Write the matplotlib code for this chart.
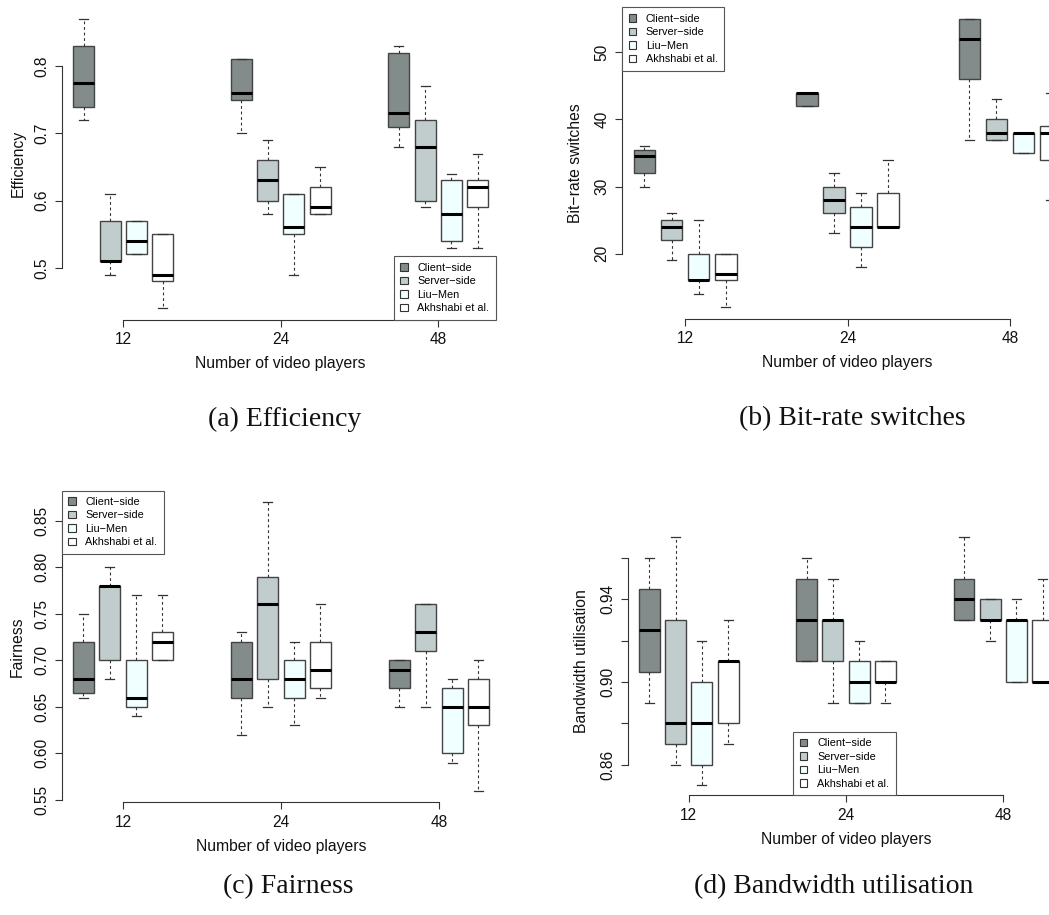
import matplotlib
matplotlib.use("Agg")
import matplotlib.pyplot as plt
from matplotlib.patches import Patch

plt.rcParams["font.family"] = ["Liberation Sans", "DejaVu Sans"]

# ----------------- data: (whisker low, q1, median, q3, whisker high) per group -----------------
groups = ["12", "24", "48"]
series = ["Client\u2212side", "Server\u2212side", "Liu\u2212Men", "Akhshabi et al."]
colors = ["#838B8B", "#C1CDCD", "#F0FFFF", "#FFFFFF"]

eff_client = [(0.72, 0.74, 0.775, 0.83, 0.87), (0.70, 0.75, 0.76, 0.81, 0.81), (0.68, 0.71, 0.73, 0.82, 0.83)]
eff_server = [(0.49, 0.51, 0.51, 0.57, 0.61), (0.58, 0.60, 0.63, 0.66, 0.69), (0.59, 0.60, 0.68, 0.72, 0.77)]
eff_liu = [(0.52, 0.52, 0.54, 0.57, 0.57), (0.49, 0.55, 0.56, 0.61, 0.61), (0.53, 0.54, 0.58, 0.63, 0.64)]
eff_akh = [(0.44, 0.48, 0.49, 0.55, 0.55), (0.58, 0.58, 0.59, 0.62, 0.65), (0.53, 0.59, 0.62, 0.63, 0.67)]

brs_client = [(30, 32, 34.5, 35.5, 36), (42, 42, 44, 44, 44), (37, 46, 52, 55, 55)]
brs_server = [(19, 22, 24, 25, 26), (23, 26, 28, 30, 32), (37, 37, 38, 40, 43)]
brs_liu = [(14, 16, 16, 20, 25), (18, 21, 24, 27, 29), (35, 35, 38, 38, 38)]
brs_akh = [(12, 16, 17, 20, 20), (24, 24, 24, 29, 34), (28, 34, 38, 39, 44)]

fair_client = [(0.66, 0.665, 0.68, 0.72, 0.75), (0.62, 0.66, 0.68, 0.72, 0.73), (0.65, 0.67, 0.69, 0.70, 0.70)]
fair_server = [(0.68, 0.70, 0.78, 0.78, 0.80), (0.65, 0.68, 0.76, 0.79, 0.87), (0.65, 0.71, 0.73, 0.76, 0.76)]
fair_liu = [(0.64, 0.65, 0.66, 0.70, 0.77), (0.63, 0.66, 0.68, 0.70, 0.72), (0.59, 0.60, 0.65, 0.67, 0.68)]
fair_akh = [(0.70, 0.70, 0.72, 0.73, 0.77), (0.66, 0.67, 0.69, 0.72, 0.76), (0.56, 0.63, 0.65, 0.68, 0.70)]

bw_client = [(0.89, 0.905, 0.925, 0.945, 0.96), (0.91, 0.91, 0.93, 0.95, 0.96), (0.93, 0.93, 0.94, 0.95, 0.97)]
bw_server = [(0.86, 0.87, 0.88, 0.93, 0.97), (0.89, 0.91, 0.93, 0.93, 0.95), (0.92, 0.93, 0.93, 0.94, 0.94)]
bw_liu = [(0.85, 0.86, 0.88, 0.90, 0.92), (0.89, 0.89, 0.90, 0.91, 0.92), (0.90, 0.90, 0.93, 0.93, 0.94)]
bw_akh = [(0.87, 0.88, 0.91, 0.91, 0.93), (0.89, 0.90, 0.90, 0.91, 0.91), (0.90, 0.90, 0.90, 0.93, 0.95)]

W, H = 1049, 915
fig = plt.figure(figsize=(W / 100, H / 100), dpi=100)

INK = "#333333"
XLIM = (0.17, 16.7)
TICKPOS = [2.5, 8.5, 14.5]


def add_panel(box, data, ylim, yticks, yticklabels, ylabel, ylabel_x, legend_loc):
    # box is (left, right, top, bottom) in pixels
    left, right, top, bottom = box
    ax = fig.add_axes([left / W, 1 - bottom / H, (right - left) / W, (bottom - top) / H])
    for k, (rows, col) in enumerate(zip(data, colors)):
        stats = [dict(whislo=r[0], q1=r[1], med=r[2], q3=r[3], whishi=r[4]) for r in rows]
        pos = [1 + k + 6 * g for g in range(len(rows))]
        ax.bxp(stats, positions=pos, widths=0.8, patch_artist=True, showfliers=False,
               capwidths=0.35, manage_ticks=False,
               boxprops=dict(facecolor=col, edgecolor="#444444", linewidth=1.0),
               medianprops=dict(color="black", linewidth=2.2, solid_capstyle="butt"),
               whiskerprops=dict(color=INK, linewidth=0.8, linestyle=(0, (2.5, 2.5))),
               capprops=dict(color=INK, linewidth=0.9))
    ax.set_xlim(*XLIM)
    ax.set_ylim(*ylim)
    ax.set_xticks(TICKPOS)
    ax.set_xticklabels(groups)
    ax.set_yticks(yticks)
    ax.set_yticklabels(yticklabels)
    for s in ["top", "right"]:
        ax.spines[s].set_visible(False)
    ax.spines["left"].set_bounds(yticks[0], yticks[-1])
    ax.spines["bottom"].set_bounds(TICKPOS[0], TICKPOS[-1])
    for s in ["left", "bottom"]:
        ax.spines[s].set_color(INK)
        ax.spines[s].set_linewidth(0.8)
    ax.tick_params(axis="both", length=5, width=0.8, color=INK, labelsize=11.2,
                   labelcolor="#111111", pad=4)
    for t in ax.get_yticklabels():
        t.set_rotation(90)
        t.set_va("center")

    # axis titles: x title centred under the 24 tick, y title centred on the axes
    mid = (TICKPOS[1] - XLIM[0]) / (XLIM[1] - XLIM[0])
    ax.set_xlabel("Number of video players", fontsize=11.3, color="#111111")
    ax.xaxis.label.set_va("center")
    ax.xaxis.set_label_coords(mid, -44 / (bottom - top))
    ax.set_ylabel(ylabel, fontsize=11.3, color="#111111")
    ax.yaxis.label.set_va("center")
    ax.yaxis.set_label_coords((ylabel_x - left) / (right - left), 0.5)
    ax.patch.set_alpha(0)

    handles = [Patch(facecolor=c, edgecolor=INK, linewidth=0.8) for c in colors]
    leg = ax.legend(handles, series, loc=legend_loc, borderaxespad=0, fontsize=7.8,
                    fancybox=False, framealpha=1, edgecolor="#555555",
                    handlelength=0.7, handleheight=0.7, handletextpad=0.9,
                    labelspacing=0.32, borderpad=0.6)
    leg.get_frame().set_linewidth(0.8)
    return ax


add_panel((62, 496, 7.6, 319.7), [eff_client, eff_server, eff_liu, eff_akh],
          (0.4228, 0.8872), [0.5, 0.6, 0.7, 0.8], ["0.5", "0.6", "0.7", "0.8"],
          "Efficiency", 18, "lower right")

add_panel((622, 1069.6, 7.3, 318.8), [brs_client, brs_server, brs_liu, brs_akh],
          (10.28, 56.72), [20, 30, 40, 50], ["20", "30", "40", "50"],
          "Bit\u2212rate switches", 576, "upper left")

add_panel((61.6, 496.9, 490.5, 802.2), [fair_client, fair_server, fair_liu, fair_akh],
          (0.5476, 0.8824), [0.55, 0.60, 0.65, 0.70, 0.75, 0.80, 0.85],
          ["0.55", "0.60", "0.65", "0.70", "0.75", "0.80", "0.85"],
          "Fairness", 17.3, "upper left")

add_panel((627.7, 1061, 527.4, 795.3), [bw_client, bw_server, bw_liu, bw_akh],
          (0.8452, 0.9748), [0.86, 0.88, 0.90, 0.92, 0.94, 0.96],
          ["0.86", "", "0.90", "", "0.94", ""],
          "Bandwidth utilisation", 581.7, "lower center")

# sub-figure captions
captions = ["(a) Efficiency", "(b) Bit-rate switches", "(c) Fairness", "(d) Bandwidth utilisation"]
cap_xy = [(285, 419), (852, 419), (288, 887), (834, 887)]
for txt, (cx, cy) in zip(captions, cap_xy):
    fig.text(cx / W, 1 - cy / H, txt, ha="center", va="center", fontsize=20,
             family=["Liberation Serif", "DejaVu Serif"], color="#111111")

fig.savefig("out.png", dpi=100)
